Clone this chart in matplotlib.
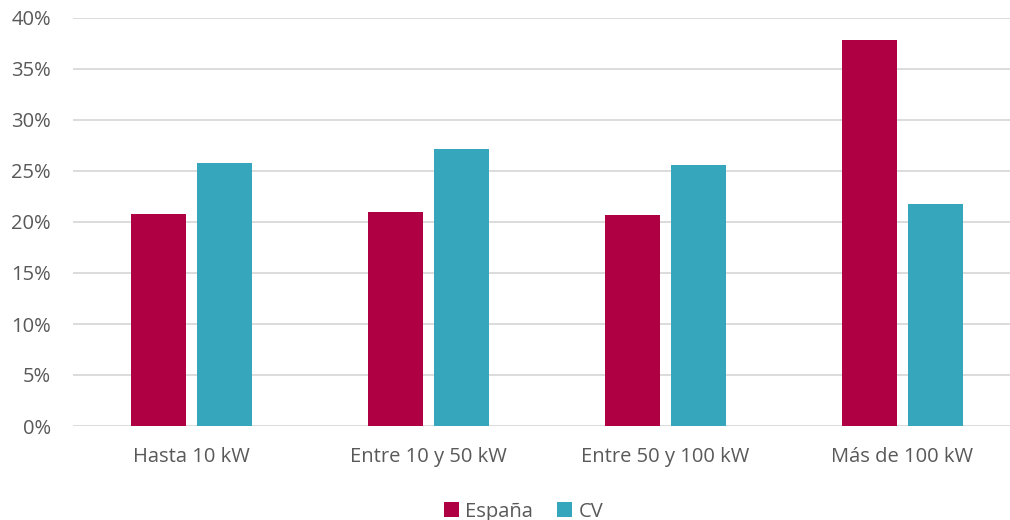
import numpy as np
import matplotlib.pyplot as plt
from matplotlib.ticker import PercentFormatter

plt.rcParams['font.family'] = ['Open Sans', 'DejaVu Sans']

# data
categories = ['Hasta 10 kW', 'Entre 10 y 50 kW', 'Entre 50 y 100 kW', 'Más de 100 kW']
espana = [20.8, 21.0, 20.7, 37.8]
cv = [25.8, 27.2, 25.6, 21.8]

c_esp = '#AE0042'
c_cv = '#36A6BC'
txt = '#595959'

fig = plt.figure(figsize=(10.1, 5.2), dpi=100)
ax = fig.add_axes([73/1010, 1-426/520, 1-73/1010, (426-18)/520])

x = np.arange(len(categories))
w = 0.232
off = 0.141
ax.bar(x - off, espana, w, color=c_esp, label='España', zorder=3)
ax.bar(x + off, cv, w, color=c_cv, label='CV', zorder=3)

ax.set_xlim(-0.5, -0.5 + 937/237)
ax.set_ylim(0, 40)
ax.set_yticks(np.arange(0, 41, 5))
ax.yaxis.set_major_formatter(PercentFormatter(decimals=0))
ax.set_xticks(x)
ax.set_xticklabels(categories)
ax.grid(axis='y', color='#D9D9D9', linewidth=1.3, zorder=0)
for s in ax.spines.values():
    s.set_visible(False)
ax.tick_params(length=0, labelsize=14.5, colors=txt)
ax.tick_params(axis='x', pad=15)
ax.tick_params(axis='y', pad=16)

ax.legend(loc='center', bbox_to_anchor=(0.5 - 36/937/2, -0.21), ncol=2, frameon=False,
          fontsize=14.5, labelcolor=txt, handlelength=0.75, handleheight=0.75,
          handletextpad=0.3, columnspacing=1.2)

fig.savefig('out.png', dpi=100)
